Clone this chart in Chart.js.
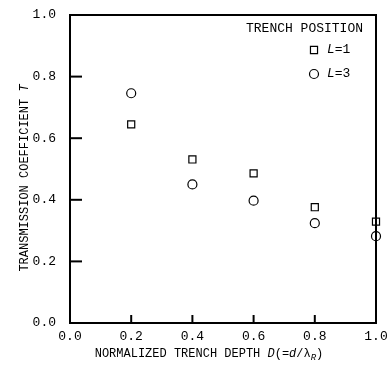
<!DOCTYPE html>
<html>
<head>
<meta charset="utf-8">
<script src="https://cdn.jsdelivr.net/npm/chart.js@4/dist/chart.umd.min.js"></script>
<style>
html,body{margin:0;padding:0;background:#fff;}
#c{display:block;}
</style>
</head>
<body>
<canvas id="c" width="392" height="373"></canvas>
<script>
const depths = [0.2, 0.4, 0.6, 0.8, 1.0];
const seriesL1 = [0.645, 0.531, 0.486, 0.376, 0.329];
const seriesL3 = [0.746, 0.450, 0.397, 0.324, 0.282];
const xTickValues = [0.0, 0.2, 0.4, 0.6, 0.8, 1.0];
const yTickValues = [0.0, 0.2, 0.4, 0.6, 0.8, 1.0];
const seriesLabels = ['L=1', 'L=3'];
const legendTitle = 'TRENCH POSITION';

const FONT = '"Liberation Mono", "DejaVu Sans Mono", monospace';

function toPoints(xs, ys) { return xs.map((x, i) => ({x: x, y: ys[i]})); }

function drawSegments(ctx, segs, x, y) {
  let cx = x;
  for (const s of segs) {
    ctx.font = (s.italic ? 'italic ' : '') + (s.size || 13) + 'px ' + FONT;
    ctx.fillText(s.t, cx, y + (s.dy || 0));
    cx += ctx.measureText(s.t).width;
  }
  return cx;
}
function measureSegments(ctx, segs) {
  let w = 0;
  for (const s of segs) {
    ctx.font = (s.italic ? 'italic ' : '') + (s.size || 13) + 'px ' + FONT;
    w += ctx.measureText(s.t).width;
  }
  return w;
}

const framePlugin = {
  id: 'frame',
  afterDraw(chart) {
    const ctx = chart.ctx;
    const a = chart.chartArea;
    const xs = chart.scales.x, ys = chart.scales.y;
    ctx.save();
    ctx.strokeStyle = '#000';
    ctx.fillStyle = '#000';
    ctx.lineWidth = 2;
    ctx.strokeRect(a.left, a.top, a.right - a.left, a.bottom - a.top);
    // inward ticks
    xTickValues.forEach(v => {
      const px = xs.getPixelForValue(v);
      ctx.beginPath(); ctx.moveTo(px, a.bottom); ctx.lineTo(px, a.bottom - 8); ctx.stroke();
    });
    yTickValues.forEach(v => {
      const py = ys.getPixelForValue(v);
      ctx.beginPath(); ctx.moveTo(a.left, py); ctx.lineTo(a.left + 12, py); ctx.stroke();
    });
    // x axis title
    ctx.textBaseline = 'middle';
    ctx.textAlign = 'left';
    const xsegs = [
      {t: 'NORMALIZED TRENCH DEPTH ', size: 12},
      {t: 'D', italic: true, size: 12},
      {t: '(=', size: 12},
      {t: 'd', italic: true, size: 12},
      {t: '/λ', size: 12},
      {t: 'R', italic: true, size: 9, dy: 4},
      {t: ')', size: 12}
    ];
    const xw = measureSegments(ctx, xsegs);
    drawSegments(ctx, xsegs, 209 - xw / 2, 354);
    // y axis title (rotated)
    const ysegs = [
      {t: 'TRANSMISSION COEFFICIENT ', size: 12},
      {t: 'T', italic: true, size: 12}
    ];
    const yw = measureSegments(ctx, ysegs);
    ctx.save();
    ctx.translate(25, 178);
    ctx.rotate(-Math.PI / 2);
    drawSegments(ctx, ysegs, -yw / 2, 0);
    ctx.restore();
    // legend
    ctx.fillStyle = '#000';
    ctx.font = '13px ' + FONT;
    ctx.textAlign = 'left';
    ctx.fillText(legendTitle, 246, 29);
    chart.data.datasets.forEach((ds, i) => {
      const cy = 50 + i * 24;
      const cx = 314;
      ctx.fillStyle = '#fff';
      ctx.strokeStyle = '#000';
      ctx.lineWidth = 1.2;
      Chart.helpers.drawPoint(ctx, {
        pointStyle: ds.pointStyle, radius: ds.pointRadius, borderWidth: 1.2
      }, cx, cy);
      ctx.fillStyle = '#000';
      const segs = [
        {t: 'L', italic: true, size: 13},
        {t: ds.label.slice(1), size: 13}
      ];
      drawSegments(ctx, segs, cx + 13, cy);
    });
    ctx.restore();
  }
};

new Chart(document.getElementById('c'), {
  type: 'scatter',
  data: {
    datasets: [
      {
        label: seriesLabels[0],
        data: toPoints(depths, seriesL1),
        pointStyle: 'rect',
        pointRadius: 5,
        pointBorderWidth: 1.2,
        borderColor: '#000',
        backgroundColor: 'rgba(255,255,255,0)',
        clip: false
      },
      {
        label: seriesLabels[1],
        data: toPoints(depths, seriesL3),
        pointStyle: 'circle',
        pointRadius: 4.5,
        pointBorderWidth: 1.2,
        borderColor: '#000',
        backgroundColor: 'rgba(255,255,255,0)',
        clip: false
      }
    ]
  },
  options: {
    responsive: false,
    animation: false,
    devicePixelRatio: 1,
    layout: {padding: {top: 15, right: 16, left: 0, bottom: 0}},
    plugins: {legend: {display: false}, tooltip: {enabled: false}},
    scales: {
      x: {
        type: 'linear', min: 0, max: 1,
        afterBuildTicks: s => { s.ticks = xTickValues.map(v => ({value: v})); },
        afterFit: s => { s.height = 50; s.paddingLeft = 0; s.paddingRight = 0; },
        ticks: {
          callback: v => Number(v).toFixed(1),
          font: {family: FONT, size: 13},
          color: '#000',
          padding: 6,
          maxRotation: 0
        },
        grid: {display: false, drawTicks: false},
        border: {display: false}
      },
      y: {
        type: 'linear', min: 0, max: 1,
        afterBuildTicks: s => { s.ticks = yTickValues.map(v => ({value: v})); },
        afterFit: s => { s.width = 70; s.paddingTop = 0; s.paddingBottom = 0; },
        ticks: {
          callback: v => Number(v).toFixed(1),
          font: {family: FONT, size: 13},
          color: '#000',
          padding: 14
        },
        grid: {display: false, drawTicks: false},
        border: {display: false}
      }
    }
  },
  plugins: [framePlugin]
});
</script>
</body>
</html>
